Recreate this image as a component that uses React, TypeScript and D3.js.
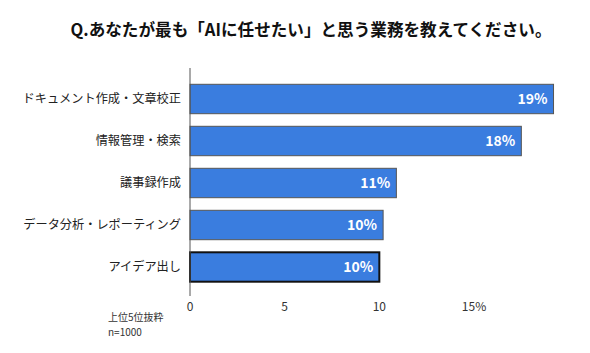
import { useEffect, useRef } from 'react';
import * as d3 from 'd3';

const categories = ['ドキュメント作成・文章校正', '情報管理・検索', '議事録作成', 'データ分析・レポーティング', 'アイデア出し'];
const values = [19.2, 17.5, 10.9, 10.2, 10.0];
const valueLabels = ['19%', '18%', '11%', '10%', '10%'];
const tickValues = [0, 5, 10, 15];
const tickLabels = ['0', '5', '10', '15%'];

const FONT = '"Noto Sans CJK JP", "Noto Sans", sans-serif';

export default function App() {
  const svgRef = useRef<SVGSVGElement>(null);

  useEffect(() => {
    const svg = d3.select(svgRef.current);
    svg.selectAll('*').remove();

    const x = d3.scaleLinear().domain([0, 15]).range([190, 474]);
    const y = d3.scaleBand().domain(categories).range([78, 288]).paddingInner(0.3).paddingOuter(0.15);

    svg.append('rect').attr('width', 590).attr('height', 353).attr('fill', '#fff');

    // title
    svg.append('text')
      .attr('x', 311).attr('y', 36)
      .attr('text-anchor', 'middle')
      .style('font-family', FONT).style('font-size', '16.6px').style('font-weight', 'bold')
      .attr('fill', '#111')
      .text('Q.あなたが最も「AIに任せたい」と思う業務を教えてください。');

    // bars
    svg.selectAll('.bar')
      .data(categories)
      .enter()
      .append('rect')
      .attr('x', x(0))
      .attr('y', d => y(d)!)
      .attr('width', (d, i) => x(values[i]) - x(0))
      .attr('height', y.bandwidth())
      .attr('fill', '#3a7ddf')
      .attr('stroke', (d, i) => i === 4 ? '#111' : '#555')
      .attr('stroke-width', (d, i) => i === 4 ? 2 : 1);

    // value labels
    svg.selectAll('.val')
      .data(categories)
      .enter()
      .append('text')
      .attr('x', (d, i) => x(values[i]) - 6)
      .attr('y', d => y(d)! + y.bandwidth() / 2)
      .attr('dy', '0.36em')
      .attr('text-anchor', 'end')
      .style('font-family', FONT).style('font-size', '14px').style('font-weight', 'bold')
      .attr('fill', '#fff')
      .text((d, i) => valueLabels[i]);

    // category labels
    svg.selectAll('.cat')
      .data(categories)
      .enter()
      .append('text')
      .attr('x', 181)
      .attr('y', d => y(d)! + y.bandwidth() / 2)
      .attr('dy', '0.36em')
      .attr('text-anchor', 'end')
      .style('font-family', FONT).style('font-size', '12.2px')
      .attr('fill', '#222')
      .text(d => d);

    // axis line
    svg.append('line')
      .attr('x1', x(0)).attr('x2', x(0))
      .attr('y1', 68).attr('y2', 296)
      .attr('stroke', '#555').attr('stroke-width', 1);

    // x tick labels
    svg.selectAll('.tick')
      .data(tickValues)
      .enter()
      .append('text')
      .attr('x', d => x(d))
      .attr('y', 307)
      .attr('dy', '0.36em')
      .attr('text-anchor', 'middle')
      .style('font-family', FONT).style('font-size', '12px')
      .attr('fill', '#333')
      .text((d, i) => tickLabels[i]);

    // footnote
    svg.append('text')
      .attr('x', 108).attr('y', 321)
      .style('font-family', FONT).style('font-size', '10px')
      .attr('fill', '#333')
      .text('上位5位抜粋');
    svg.append('text')
      .attr('x', 108).attr('y', 336)
      .style('font-family', FONT).style('font-size', '10px')
      .attr('fill', '#333')
      .text('n=1000');
  }, []);

  return (
    <div style={{ position: 'absolute', left: 0, top: 0 }}>
      <svg ref={svgRef} width={590} height={353}></svg>
    </div>
  );
}
